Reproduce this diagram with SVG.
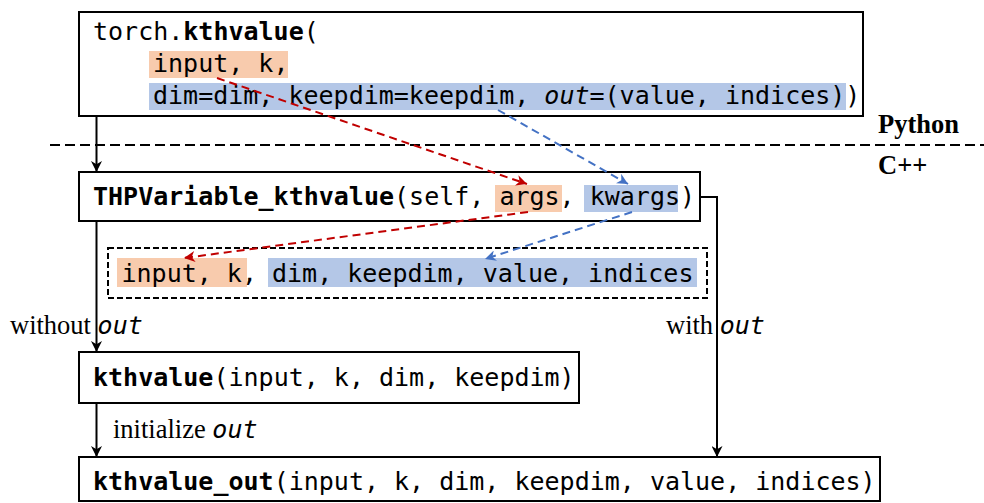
<svg xmlns="http://www.w3.org/2000/svg" width="984" height="503" viewBox="0 0 984 503">
  <style>
    .box { fill: #ffffff; stroke: #000000; stroke-width: 2; }
    .code { font-family: "DejaVu Sans Mono", monospace; font-size: 25px; fill: #000000; }
    .b { font-weight: bold; }
    .it { font-family: "DejaVu Sans Mono", monospace; font-style: italic; }
    .serif { font-family: "Liberation Serif", "Times New Roman", serif; font-size: 26.5px; fill: #000000; }
    .hl-o { fill: #F8CBAD; }
    .hl-b { fill: #B4C7E7; }
    .wire { fill: none; stroke: #000000; stroke-width: 2; }
    .red { fill: none; stroke: #C00000; stroke-width: 2; stroke-dasharray: 8 5; }
    .blue { fill: none; stroke: #4472C4; stroke-width: 2; stroke-dasharray: 8 5; }
  </style>
  <defs>
    <marker id="arr-k" viewBox="0 0 10 10" refX="10" refY="5" markerWidth="11" markerHeight="11" markerUnits="userSpaceOnUse" orient="auto">
      <path d="M0,0 L10,5 L0,10 L3,5 z" fill="#000000"/>
    </marker>
    <marker id="arr-r" viewBox="0 0 10 10" refX="10" refY="5" markerWidth="11" markerHeight="11" markerUnits="userSpaceOnUse" orient="auto">
      <path d="M0,0 L10,5 L0,10 L3,5 z" fill="#C00000"/>
    </marker>
    <marker id="arr-b" viewBox="0 0 10 10" refX="10" refY="5" markerWidth="11" markerHeight="11" markerUnits="userSpaceOnUse" orient="auto">
      <path d="M0,0 L10,5 L0,10 L3,5 z" fill="#4472C4"/>
    </marker>
  </defs>

  <rect width="984" height="503" fill="#ffffff"/>

  <!-- language boundary -->
  <g id="boundary">
    <line x1="50" y1="145" x2="984" y2="145" stroke="#000000" stroke-width="2" stroke-dasharray="10 5"/>
    <text class="serif b" x="878" y="133">Python</text>
    <text class="serif b" x="878" y="174">C++</text>
  </g>

  <!-- Python call -->
  <g id="torch-call">
    <rect class="box" x="79" y="12" width="784" height="104"/>
    <rect class="hl-o" x="149" y="51" width="139" height="27"/>
    <rect class="hl-b" x="149" y="83" width="697" height="27"/>
    <text class="code" x="93" y="40">torch.<tspan class="b">kthvalue</tspan>(</text>
    <text class="code" x="153" y="72">input, k,</text>
    <text class="code" x="153" y="104">dim=dim, keepdim=keepdim, <tspan class="it">out</tspan>=(value, indices))</text>
  </g>

  <!-- C++ binding -->
  <g id="thp-variable">
    <rect class="box" x="79" y="172" width="621" height="49"/>
    <rect class="hl-o" x="495" y="185" width="67" height="27"/>
    <rect class="hl-b" x="584" y="185" width="94" height="27"/>
    <text class="code" x="93" y="205"><tspan class="b">THPVariable_kthvalue</tspan>(self, args, kwargs)</text>
  </g>

  <!-- parsed arguments -->
  <g id="parsed-args">
    <rect x="108" y="248" width="599" height="50" fill="none" stroke="#000000" stroke-width="2" stroke-dasharray="6 3"/>
    <rect class="hl-o" x="117" y="258" width="130" height="29"/>
    <rect class="hl-b" x="268" y="258" width="429" height="29"/>
    <text class="code" x="121.5" y="282">input, k, dim, keepdim, value, indices</text>
  </g>

  <!-- functional variant -->
  <g id="kthvalue">
    <rect class="box" x="79" y="352" width="500" height="51"/>
    <text class="code" x="93" y="386"><tspan class="b">kthvalue</tspan>(input, k, dim, keepdim)</text>
  </g>

  <!-- out variant -->
  <g id="kthvalue-out">
    <rect class="box" x="79" y="457" width="801" height="44"/>
    <text class="code" x="93" y="490"><tspan class="b">kthvalue_out</tspan>(input, k, dim, keepdim, value, indices)</text>
  </g>

  <!-- connectors -->
  <g id="connectors">
    <line class="wire" x1="96.5" y1="116" x2="96.5" y2="172" marker-end="url(#arr-k)"/>
    <line class="wire" x1="96.5" y1="221" x2="96.5" y2="352" marker-end="url(#arr-k)"/>
    <line class="wire" x1="96.5" y1="403" x2="96.5" y2="457" marker-end="url(#arr-k)"/>
    <polyline class="wire" points="700,197 717,197 717,457" marker-end="url(#arr-k)"/>

    <line class="red" x1="217" y1="78" x2="527" y2="184" marker-end="url(#arr-r)"/>
    <line class="blue" x1="498" y1="110" x2="628" y2="184" marker-end="url(#arr-b)"/>
    <line class="red" x1="528" y1="212" x2="184" y2="258" marker-end="url(#arr-r)"/>
    <line class="blue" x1="632" y1="212" x2="485" y2="259" marker-end="url(#arr-b)"/>

    <text class="serif" x="10" y="334">without <tspan class="it" font-size="25">out</tspan></text>
    <text class="serif" x="666" y="334">with <tspan class="it" font-size="25">out</tspan></text>
    <text class="serif" x="113" y="438">initialize <tspan class="it" font-size="25">out</tspan></text>
  </g>
</svg>
